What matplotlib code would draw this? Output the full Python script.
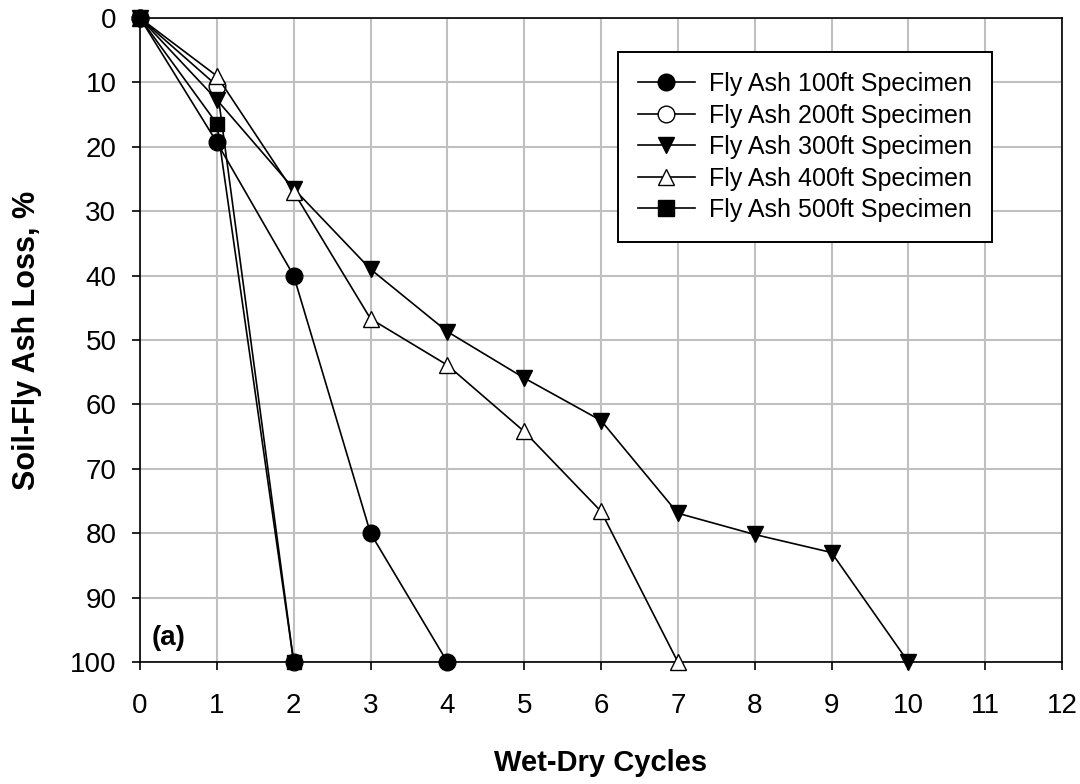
import matplotlib as mpl
mpl.use('Agg')
import matplotlib.pyplot as plt

plt.rcParams['font.family'] = ['Liberation Sans', 'DejaVu Sans']

# wet-dry cycles and loss (%) per specimen
x100 = [0, 1, 2, 3, 4]
y100 = [0, 19.3, 40.0, 80.0, 100]

x200 = [0, 1, 2]
y200 = [0, 10.5, 100]

x300 = [0, 1, 2, 3, 4, 5, 6, 7, 8, 9, 10]
y300 = [0, 12.7, 26.5, 39.0, 48.7, 55.9, 62.5, 76.9, 80.2, 83.0, 100]

x400 = [0, 1, 2, 3, 4, 5, 6, 7]
y400 = [0, 9.0, 27.0, 46.7, 53.9, 64.2, 76.6, 100]

x500 = [0, 1, 2]
y500 = [0, 16.4, 100]

labels = ['Fly Ash 100ft Specimen', 'Fly Ash 200ft Specimen', 'Fly Ash 300ft Specimen',
          'Fly Ash 400ft Specimen', 'Fly Ash 500ft Specimen']

fig = plt.figure(figsize=(10.8, 7.84), dpi=100)
ax = fig.add_axes([140 / 1080, 1 - 662 / 784, 922 / 1080, 644 / 784])

ms = 12
kw = dict(color='black', lw=1.2, clip_on=False, zorder=3)
ax.plot(x100, y100, marker='o', ms=ms, mfc='black', mec='black', label=labels[0], **kw)
ax.plot(x200, y200, marker='o', ms=ms, mfc='white', mec='black', label=labels[1], **kw)
ax.plot(x300, y300, marker='v', ms=ms, mfc='black', mec='black', label=labels[2], **kw)
ax.plot(x400, y400, marker='^', ms=ms, mfc='white', mec='black', label=labels[3], **kw)
ax.plot(x500, y500, marker='s', ms=ms - 1.5, mfc='black', mec='black', label=labels[4], **kw)

ax.set_xlim(0, 12)
ax.set_ylim(100, 0)
ax.set_xticks(range(0, 13))
ax.set_yticks(range(0, 101, 10))
ax.grid(True, color='#c0c0c0', lw=1.5)
ax.set_axisbelow(True)
ax.tick_params(labelsize=20, direction='out', length=6, width=1.2, color='black')
ax.tick_params(axis='x', pad=16)
ax.tick_params(axis='y', pad=11)
for s in ax.spines.values():
    s.set_linewidth(1.2)

ax.set_xlabel('Wet-Dry Cycles', fontsize=21, fontweight='bold', labelpad=22)
ax.set_ylabel('Soil-Fly Ash Loss, %', fontsize=22, fontweight='bold', labelpad=20)

ax.text(0.15, 96.3, '(a)', fontsize=20, fontweight='bold', va='center', ha='left')

leg = ax.legend(loc='upper right', bbox_to_anchor=(0.924, 0.947), fontsize=18,
                frameon=True, fancybox=False, edgecolor='black', framealpha=1,
                handlelength=2.3, labelspacing=0.3, borderpad=0.8, handletextpad=0.55,
                borderaxespad=0)
leg.get_frame().set_linewidth(1.4)
for h in leg.legend_handles:
    h.set_markersize(12)

plt.savefig('out.png', dpi=100)
